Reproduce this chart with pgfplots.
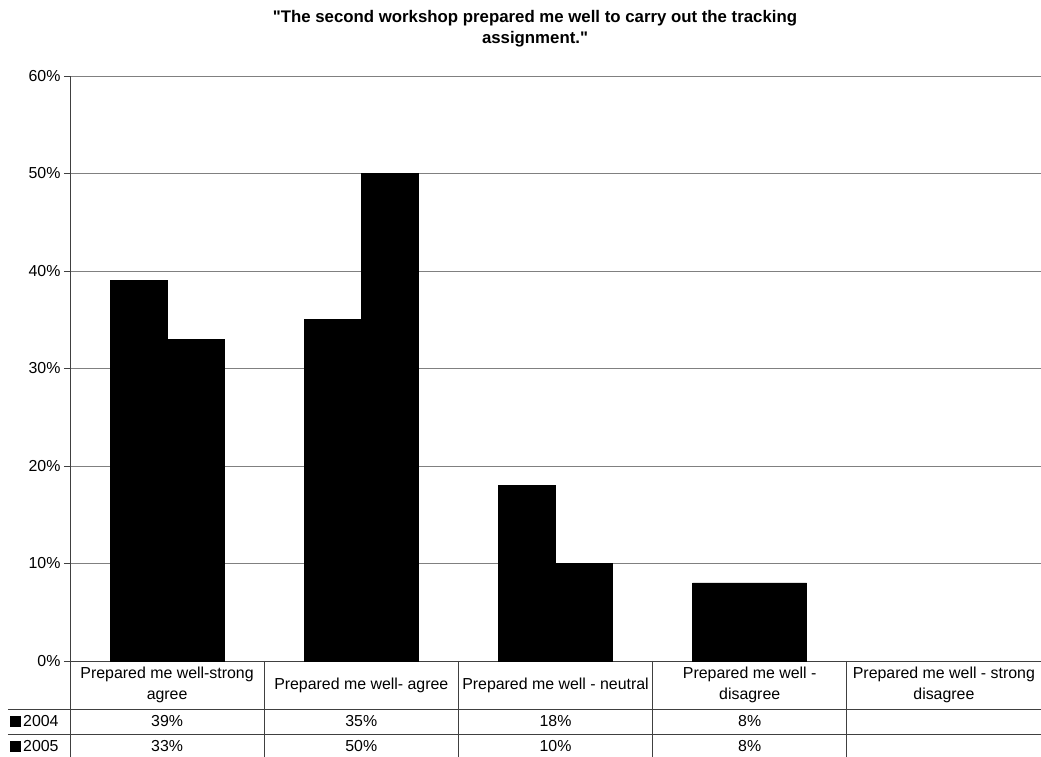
\documentclass[border=0pt]{standalone}
\usepackage{fontspec}
\setmainfont{Liberation Sans}
\usepackage{pgfplots}
\pgfplotsset{compat=1.18}
\definecolor{gridgray}{HTML}{808080}
\definecolor{axisgray}{HTML}{404040}
\newcommand{\lbl}{\fontsize{15.9}{21}\selectfont}
% straight double quote, set as a glyph so it is not turned into a curly one
\newcommand{\dq}{\XeTeXglyph\XeTeXcharglyph"22\relax}
\begin{document}
\begin{tikzpicture}[x=1pt,y=1pt]
\useasboundingbox (-70,-96) rectangle (971,661);
% title
\node[anchor=base, inner sep=0, font=\fontsize{16.8}{20}\selectfont\bfseries] at (465,638)
  {\dq The second workshop prepared me well to carry out the tracking};
\node[anchor=base, inner sep=0, font=\fontsize{16.8}{20}\selectfont\bfseries] at (465,617)
  {assignment.\dq};
\begin{axis}[
  at={(0,0)}, anchor=south west,
  scale only axis, width=971pt, height=585pt,
  xmin=-0.5, xmax=4.5, ymin=0, ymax=60,
  ybar=0pt, bar width=57pt,
  axis x line=bottom, axis y line=left,
  axis line style={axisgray, line width=0.8pt, -},
  xtick=\empty, ytick={0,10,...,60},
  yticklabel={\pgfmathprintnumber{\tick}\%},
  ymajorgrids, major grid style={gridgray, line width=0.8pt},
  tick align=outside, major tick length=6pt,
  ytick style={axisgray, line width=0.8pt},
  ticklabel style={font=\lbl},
  /pgf/number format/assume math mode=true,
  clip=false,
]
\addplot[fill=black, draw=black, line width=0.5pt] coordinates {(0,39) (1,35) (2,18) (3,8)};
\addplot[fill=black, draw=black, line width=0.5pt] coordinates {(0,33) (1,50) (2,10) (3,8)};
\end{axis}
% data table under the axis
\begin{scope}[axisgray, line width=0.8pt]
  \foreach \x in {0,194.2,388.4,582.6,776.8} \draw (\x,0) -- (\x,-96);
  \draw (-62,-48) -- (971,-48);
  \draw (-62,-73) -- (971,-73);
\end{scope}
\begin{scope}[every node/.style={inner sep=0, font=\lbl, align=center}]
  \node at (97.1,-24) {Prepared me well-strong\\agree};
  \node at (291.3,-24) {Prepared me well- agree};
  \node at (485.5,-24) {Prepared me well - neutral};
  \node at (679.7,-24) {Prepared me well -\\disagree};
  \node at (873.9,-24) {Prepared me well - strong\\disagree};
  \node at (97.1,-60.5) {39\%};
  \node at (291.3,-60.5) {35\%};
  \node at (485.5,-60.5) {18\%};
  \node at (679.7,-60.5) {8\%};
  \node at (97.1,-85) {33\%};
  \node at (291.3,-85) {50\%};
  \node at (485.5,-85) {10\%};
  \node at (679.7,-85) {8\%};
  \fill[black] (-60,-66) rectangle (-49,-55);
  \node[anchor=west] at (-47,-60.5) {2004};
  \fill[black] (-60,-90.5) rectangle (-49,-79.5);
  \node[anchor=west] at (-47,-85) {2005};
\end{scope}
\end{tikzpicture}
\end{document}
